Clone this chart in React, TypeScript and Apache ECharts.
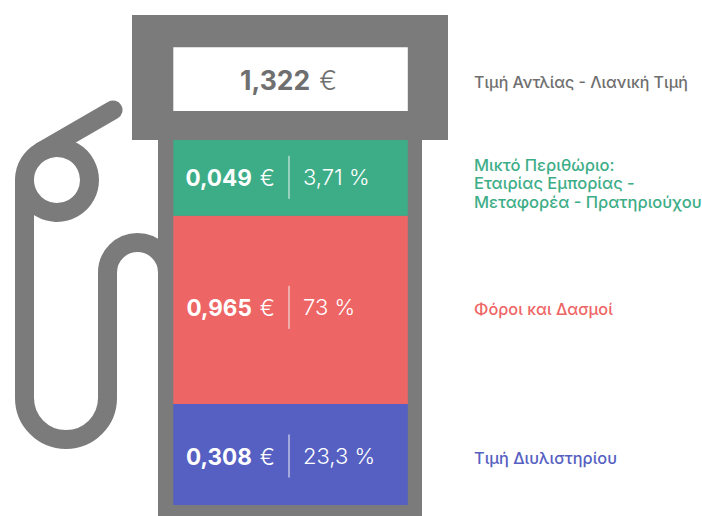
import React, { useEffect, useRef } from "react";
import * as echarts from "echarts";

// Values printed on the pump, bottom to top.
const bandNames = ["Τιμή Διυλιστηρίου", "Φόροι και Δασμοί", "Μικτό Περιθώριο:\nΕταιρίας Εμπορίας -\nΜεταφορέα - Πρατηριούχου"];
const priceLabels = ["0,308", "0,965", "0,049"];
const shareLabels = ["23,3 %", "73 %", "3,71 %"];
// The bands in the picture are schematic, not proportional to the prices: these are their drawn heights.
const bandHeights = [101, 188.3, 75.7];
const bandColors = ["#5560c2", "#ee6565", "#3dad87"];
const totalLabel = "1,322";
const totalName = "Τιμή Αντλίας - Λιανική Τιμή";

const GRAY = "#7b7b7b";
const FONT = "Inter, 'Noto Sans', sans-serif";
const textNudge = [1.5, -2.5, -0.5];
const nameNudge = [3.5, -1, 5.5];
const hosePath =
  "M113 110 L40.8 151.8 M24.5 180 L24.5 398 A41.5 41.5 0 0 0 107.5 398 L107.5 272.5 A30 30 0 0 1 167.5 272.5";

echarts.graphic.registerShape("hose", echarts.graphic.extendPath(hosePath, {}));

export default function App() {
  const ref = useRef<HTMLDivElement>(null);
  useEffect(() => {
    const chart = echarts.init(ref.current!, null, { renderer: "svg" });
    const hoseStyle = { fill: "none", stroke: GRAY, lineWidth: 19, lineCap: "round" };
    let base = 0;
    const bands = bandHeights.map((h, i) => {
      const r = { start: base, end: base + h, i };
      base += h;
      return r;
    });
    chart.setOption({
      animation: false,
      backgroundColor: "#ffffff",
      grid: { left: 173.3, width: 234.5, top: 140, height: 365 },
      xAxis: { type: "category", data: ["pump"], show: false },
      yAxis: { type: "value", min: 0, max: 365, show: false },
      graphic: [
        { type: "hose", x: 0, y: 0, style: hoseStyle, z: 0 },
        { type: "circle", shape: { cx: 57, cy: 180, r: 32.5 }, style: { fill: "none", stroke: GRAY, lineWidth: 19 }, z: 0 },
        { type: "rect", shape: { x: 158, y: 130, width: 264, height: 386 }, style: { fill: GRAY }, z: 1 },
        { type: "rect", shape: { x: 132, y: 15, width: 316, height: 125 }, style: { fill: GRAY }, z: 1 },
        { type: "rect", shape: { x: 173.3, y: 47.3, width: 234.5, height: 63.7 }, style: { fill: "#ffffff" }, z: 1 },
        {
          type: "text",
          x: 337,
          y: 80,
          z: 3,
          style: {
            text: `{b|${totalLabel}}{n|€}`,
            align: "right",
            verticalAlign: "middle",
            rich: {
              b: { fontFamily: FONT, fontSize: 26.5, fontWeight: 700, fill: "#6f6f6f" },
              n: { fontFamily: FONT, fontSize: 26.5, fontWeight: 300, fill: "#6f6f6f", padding: [0, 0, 0, 9] },
            },
          },
        },
        {
          type: "text",
          x: 474,
          y: 82,
          z: 3,
          style: { text: totalName, fontFamily: FONT, fontSize: 16, fontWeight: 500, fill: "#6f6f6f", verticalAlign: "middle" },
        },
      ],
      series: [
        ...bandHeights.map((h, i) => ({
          type: "bar",
          stack: "pump",
          name: bandNames[i],
          barWidth: "100%",
          data: [h],
          itemStyle: { color: bandColors[i] },
          silent: true,
        })),
        {
          type: "custom",
          z: 5,
          silent: true,
          data: bands.map((b) => [0, b.start, b.end, b.i]),
          encode: { x: 0, y: [1, 2] },
          renderItem: (_: any, api: any) => {
            const i = api.value(3);
            const top = api.coord([0, api.value(2)]);
            const bottom = api.coord([0, api.value(1)]);
            const mid = (top[1] + bottom[1]) / 2;
            const y = mid + textNudge[i];
            const dividerX = 289;
            return {
              type: "group",
              children: [
                {
                  type: "line",
                  shape: { x1: dividerX, y1: y - 21.5, x2: dividerX, y2: y + 21.5 },
                  style: { stroke: "#f3f3f3", lineWidth: 1 },
                },
                {
                  type: "text",
                  x: 275,
                  y,
                  style: {
                    text: `{b|${priceLabels[i]}}{n|€}`,
                    align: "right",
                    verticalAlign: "middle",
                    rich: {
                      b: { fontFamily: FONT, fontSize: 22.5, fontWeight: 700, fill: "#ffffff" },
                      n: { fontFamily: FONT, fontSize: 22.5, fontWeight: 300, fill: "#ffffff", padding: [0, 0, 0, 8] },
                    },
                  },
                },
                {
                  type: "text",
                  x: 303,
                  y,
                  style: {
                    text: shareLabels[i],
                    fontFamily: FONT,
                    fontSize: 22,
                    fontWeight: 300,
                    fill: "#ffffff",
                    align: "left",
                    verticalAlign: "middle",
                  },
                },
                {
                  type: "text",
                  x: 474,
                  y: mid + nameNudge[i],
                  style: {
                    text: bandNames[i],
                    fontFamily: FONT,
                    fontSize: i === 2 ? 16.5 : 16.3,
                    fontWeight: 500,
                    lineHeight: 18.5,
                    fill: bandColors[i],
                    align: "left",
                    verticalAlign: "middle",
                  },
                },
              ],
            };
          },
        },
      ],
    });
    return () => chart.dispose();
  }, []);
  return <div ref={ref} style={{ position: "absolute", left: 0, top: 0, width: 702, height: 516 }} />;
}
